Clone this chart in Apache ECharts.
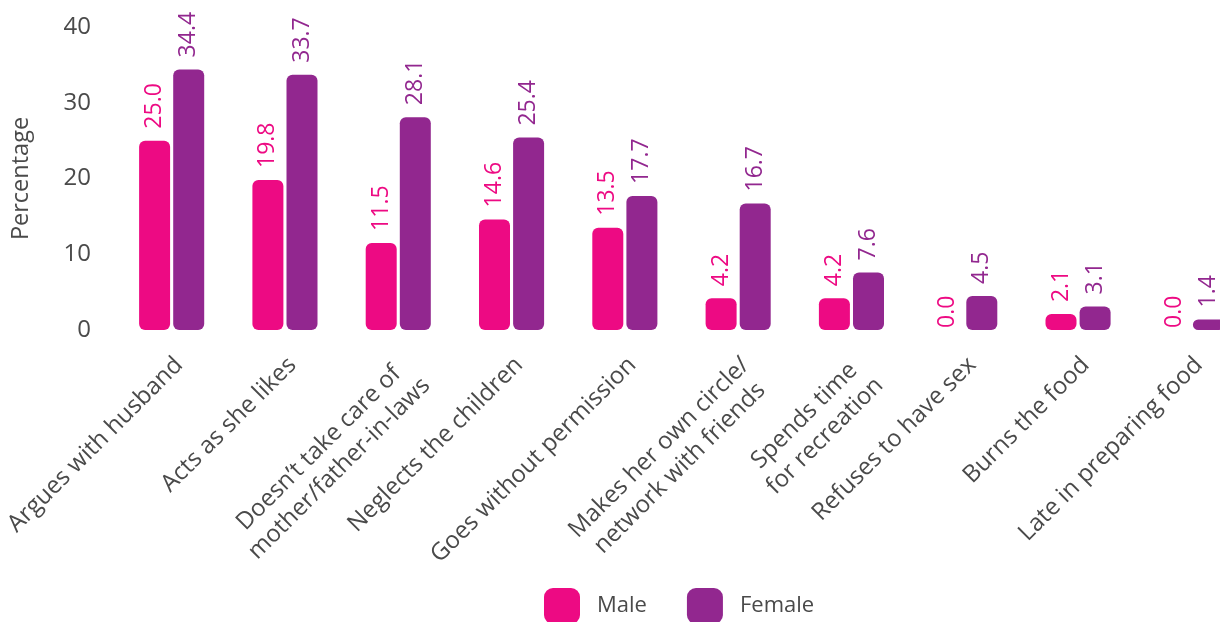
<!DOCTYPE html>
<html>
<head>
<meta charset="utf-8">
<script src="https://cdn.jsdelivr.net/npm/echarts@6/dist/echarts.min.js"></script>
<style>
  html, body { margin: 0; padding: 0; background: #ffffff; }
  #chart { width: 1220px; height: 622px; }
</style>
</head>
<body>
<div id="chart"></div>
<script>
// Reasons considered to justify wife-beating, by sex of respondent (%)
const categories = [
  'Argues with husband',
  'Acts as she likes',
  'Doesn\u2019t take care of\nmother/father-in-laws',
  'Neglects the children',
  'Goes without permission',
  'Makes her own circle/\nnetwork with friends',
  'Spends time\nfor recreation',
  'Refuses to have sex',
  'Burns the food',
  'Late in preparing food'
];
const maleValues   = [25.0, 19.8, 11.5, 14.6, 13.5, 4.2, 4.2, 0.0, 2.1, 0.0];
const femaleValues = [34.4, 33.7, 28.1, 25.4, 17.7, 16.7, 7.6, 4.5, 3.1, 1.4];
const yTicks = [0, 10, 20, 30, 40];

const FONT = '"Open Sans", "Noto Sans", sans-serif';
const TEXT = '#4a4a4a';
const PINK = '#ED0A83';
const PURPLE = '#92278F';

// zero-height bars keep their value label close to the baseline
function barData(values) {
  return values.map(v => v === 0 ? { value: v, label: { distance: 2 } } : v);
}

function valueLabel(color) {
  return {
    show: true,
    position: 'top',
    rotate: 90,
    align: 'left',
    verticalAlign: 'middle',
    distance: 12,
    color: color,
    fontFamily: FONT,
    fontSize: 23,
    formatter: p => Number(p.value).toFixed(1)
  };
}

const chart = echarts.init(document.getElementById('chart'), null, { renderer: 'canvas' });

chart.setOption({
  animation: false,
  backgroundColor: '#ffffff',
  textStyle: { fontFamily: FONT },
  grid: { left: 115, top: 27, width: 1133, bottom: 292, containLabel: false, outerBoundsMode: 'none' },
  legend: {
    left: 544,
    top: 588,
    padding: 0,
    itemWidth: 36,
    itemHeight: 36,
    itemGap: 40,
    icon: 'roundRect',
    textStyle: { color: TEXT, fontFamily: FONT, fontSize: 22, padding: [0, 0, 0, 12] },
    data: ['Male', 'Female']
  },
  xAxis: {
    type: 'category',
    data: categories,
    axisLine: { show: false },
    axisTick: { show: false },
    axisLabel: {
      interval: 0,
      rotate: 45,
      margin: 14,
      align: 'right',
      verticalAlign: 'top',
      padding: [3, 7, 0, 0],
      color: TEXT,
      fontFamily: FONT,
      fontSize: 24,
      lineHeight: 29,
      formatter: v => v.split('\n').map(s => '{c|' + s + '}').join('\n'),
      rich: {
        c: { align: 'center', color: TEXT, fontFamily: FONT, fontSize: 24, lineHeight: 29 }
      }
    }
  },
  yAxis: {
    type: 'value',
    min: yTicks[0],
    max: yTicks[yTicks.length - 1],
    interval: yTicks[1] - yTicks[0],
    name: 'Percentage',
    nameLocation: 'middle',
    nameGap: 82,
    nameTextStyle: { color: TEXT, fontFamily: FONT, fontSize: 23.5 },
    axisLine: { show: false },
    axisTick: { show: false },
    splitLine: { show: false },
    axisLabel: { color: TEXT, fontFamily: FONT, fontSize: 24, margin: 24 }
  },
  series: [
    {
      name: 'Male',
      type: 'bar',
      data: barData(maleValues),
      barWidth: 31,
      barGap: '10%',
      itemStyle: { color: PINK, borderRadius: 6 },
      label: valueLabel(PINK)
    },
    {
      name: 'Female',
      type: 'bar',
      data: barData(femaleValues),
      barWidth: 31,
      itemStyle: { color: PURPLE, borderRadius: 6 },
      label: valueLabel(PURPLE)
    }
  ]
});
</script>
</body>
</html>
